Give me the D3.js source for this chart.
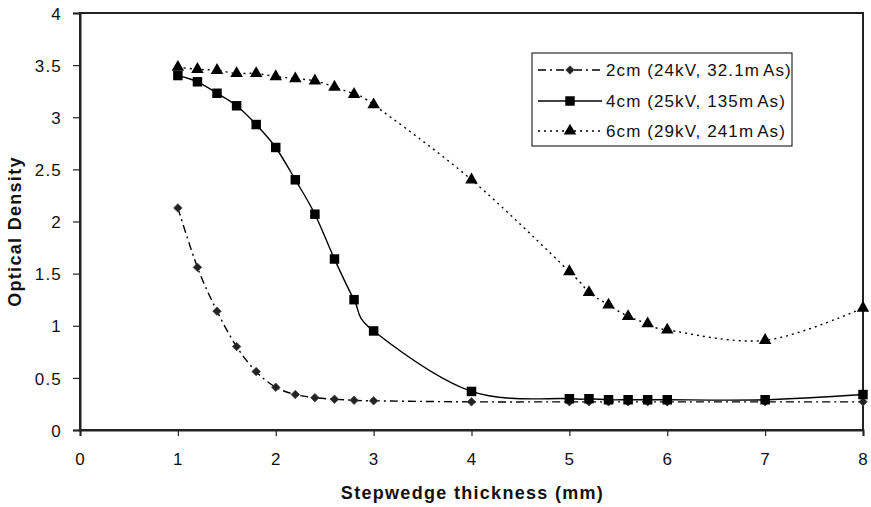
<!DOCTYPE html>
<html>
<head>
<meta charset="utf-8">
<script src="https://cdn.jsdelivr.net/npm/d3@7"></script>
<style>
  html, body { margin: 0; padding: 0; background: #fff; }
  svg { display: block; font-family: "Liberation Sans", Arial, sans-serif; }
</style>
</head>
<body>
<svg id="chart" width="871" height="507"></svg>
<script>
const xTicks = [0, 1, 2, 3, 4, 5, 6, 7, 8];
const yTicks = [0, 0.5, 1, 1.5, 2, 2.5, 3, 3.5, 4];

const xs = [1, 1.2, 1.4, 1.6, 1.8, 2, 2.2, 2.4, 2.6, 2.8, 3, 4, 5, 5.2, 5.4, 5.6, 5.8, 6, 7, 8];
const s2cm = [2.13, 1.56, 1.14, 0.80, 0.56, 0.41, 0.34, 0.31, 0.295, 0.285, 0.28, 0.27, 0.27, 0.27, 0.27, 0.27, 0.27, 0.27, 0.27, 0.27];
const s4cm = [3.40, 3.34, 3.23, 3.11, 2.93, 2.71, 2.40, 2.07, 1.64, 1.25, 0.95, 0.37, 0.30, 0.30, 0.29, 0.29, 0.29, 0.29, 0.29, 0.34];
const s6cm = [3.48, 3.46, 3.45, 3.42, 3.42, 3.39, 3.37, 3.35, 3.29, 3.22, 3.12, 2.40, 1.52, 1.32, 1.20, 1.09, 1.02, 0.96, 0.86, 1.17];

const seriesNames = ["2cm (24kV, 32.1m", "4cm (25kV, 135m", "6cm (29kV, 241m"];
const seriesSuffix = "As)";
const xTitle = "Stepwedge thickness (mm)";
const yTitle = "Optical Density";

const series = [
  { name: seriesNames[0], values: s2cm, dash: "8,4,2,4", marker: "diamond" },
  { name: seriesNames[1], values: s4cm, dash: null, marker: "square" },
  { name: seriesNames[2], values: s6cm, dash: "2,4", marker: "triangle" }
];

const svg = d3.select("#chart");
const mLeft = 80, mRight = 863, mTop = 13, mBottom = 430;

const x = d3.scaleLinear().domain([0, 8]).range([mLeft, mRight]);
const y = d3.scaleLinear().domain([0, 4]).range([mBottom, mTop]);

// plot frame
svg.append("rect")
  .attr("x", mLeft).attr("y", mTop)
  .attr("width", mRight - mLeft).attr("height", mBottom - mTop)
  .attr("fill", "none").attr("stroke", "#222").attr("stroke-width", 2);

// axes
const yAxis = d3.axisLeft(y).tickValues(yTicks).tickSize(7).tickPadding(11)
  .tickFormat(d => d3.format("")(d));
const xAxis = d3.axisBottom(x).tickValues(xTicks).tickSize(6).tickPadding(17)
  .tickFormat(d => d3.format("")(d));

const gy = svg.append("g").attr("transform", `translate(${mLeft},0)`).call(yAxis);
const gx = svg.append("g").attr("transform", `translate(0,${mBottom})`).call(xAxis);
[gx, gy].forEach(g => {
  g.select(".domain").attr("stroke", "#222").attr("stroke-width", 2);
  g.selectAll(".tick line").attr("stroke", "#222").attr("stroke-width", 1.2);
  g.selectAll(".tick text").attr("fill", "#111").attr("font-size", 17)
    .attr("font-family", "Liberation Sans, Arial, sans-serif")
    .style("letter-spacing", "1.2px");
});
gy.selectAll(".tick text").attr("dy", "0.36em");

// axis titles
svg.append("text")
  .attr("x", (mLeft + mRight) / 2 + 1).attr("y", 499)
  .attr("text-anchor", "middle")
  .attr("font-size", 18).attr("font-weight", "bold")
  .style("letter-spacing", "1.3px")
  .attr("fill", "#111")
  .text(xTitle);

svg.append("text")
  .attr("transform", `translate(21,${(mTop + mBottom) / 2 + 10}) rotate(-90)`)
  .attr("text-anchor", "middle")
  .attr("font-size", 18).attr("font-weight", "bold")
  .style("letter-spacing", "1.3px")
  .attr("fill", "#111")
  .text(yTitle);

// lines
const line = d3.line().x(d => x(d[0])).y(d => y(d[1])).curve(d3.curveCardinal.tension(0));

function drawMarker(g, type, cx, cy) {
  if (type === "diamond") {
    g.append("path")
      .attr("d", d3.symbol().type(d3.symbolDiamond2).size(46)())
      .attr("transform", `translate(${cx},${cy})`)
      .attr("fill", "#222").attr("stroke", "#444").attr("stroke-width", 0.8);
  } else if (type === "square") {
    g.append("path")
      .attr("d", d3.symbol().type(d3.symbolSquare).size(90)())
      .attr("transform", `translate(${cx},${cy})`)
      .attr("fill", "#000");
  } else {
    g.append("path")
      .attr("d", d3.symbol().type(d3.symbolTriangle).size(68)())
      .attr("transform", `translate(${cx},${cy})`)
      .attr("fill", "#000");
  }
}

series.forEach(s => {
  const pts = xs.map((v, i) => [v, s.values[i]]);
  svg.append("path")
    .attr("d", line(pts))
    .attr("fill", "none").attr("stroke", "#000").attr("stroke-width", 1.4)
    .attr("stroke-dasharray", s.dash);
  const g = svg.append("g");
  pts.forEach(p => drawMarker(g, s.marker, x(p[0]), y(p[1])));
});

// legend
const lg = svg.append("g");
lg.append("rect").attr("x", 532).attr("y", 53).attr("width", 260).attr("height", 93)
  .attr("fill", "#fff").attr("stroke", "#000").attr("stroke-width", 1);
const legendY = [70, 101, 131];
series.forEach((s, i) => {
  const ly = legendY[i];
  lg.append("line").attr("x1", 538).attr("x2", 602).attr("y1", ly).attr("y2", ly)
    .attr("stroke", "#000").attr("stroke-width", 1.4).attr("stroke-dasharray", s.dash);
  drawMarker(lg, s.marker, 570, ly);
  const t = lg.append("text").attr("x", 606).attr("y", ly + 6)
    .attr("font-size", 17).attr("fill", "#111")
    .style("letter-spacing", "1.1px");
  t.append("tspan").text(s.name);
  t.append("tspan").attr("dx", 3).text(seriesSuffix);
});
</script>
</body>
</html>
